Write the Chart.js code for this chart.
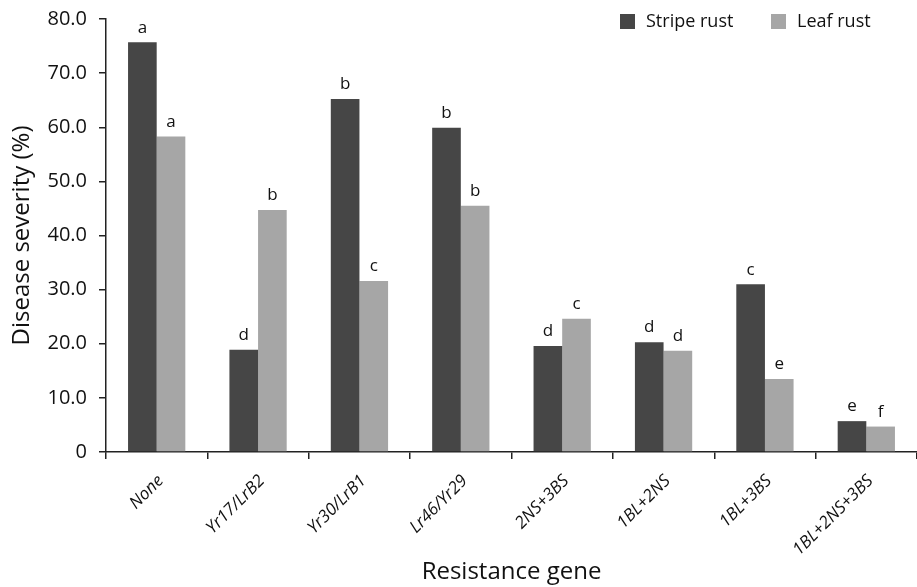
<!DOCTYPE html>
<html>
<head>
<meta charset="utf-8">
<script src="https://cdn.jsdelivr.net/npm/chart.js@4"></script>
<style>
  html, body { margin: 0; padding: 0; background: #fff; }
  #wrap { width: 917px; height: 587px; position: relative; }
</style>
</head>
<body>
<div id="wrap"><canvas id="c" width="917" height="587"></canvas></div>
<script>
const categories = ["None", "Yr17/LrB2", "Yr30/LrB1", "Lr46/Yr29", "2NS+3BS", "1BL+2NS", "1BL+3BS", "1BL+2NS+3BS"];
const stripeRust = [75.7, 18.9, 65.2, 59.9, 19.6, 20.3, 31.0, 5.7];
const leafRust = [58.3, 44.7, 31.6, 45.5, 24.6, 18.7, 13.5, 4.7];
const stripeLetters = ["a", "d", "b", "b", "d", "d", "c", "e"];
const leafLetters = ["a", "b", "c", "b", "c", "d", "e", "f"];
const seriesNames = ["Stripe rust", "Leaf rust"];
const yTicks = [0, 10, 20, 30, 40, 50, 60, 70, 80];

const FONT = "'Open Sans', 'Noto Sans', sans-serif";
const DARK = "#464646";
const LIGHT = "#a6a6a6";
const AXIS = "#222";

const letterPlugin = {
  id: 'letters',
  afterDatasetsDraw(chart) {
    const ctx = chart.ctx;
    const sets = [stripeLetters, leafLetters];
    ctx.save();
    ctx.font = "17px " + FONT;
    ctx.fillStyle = "#111";
    ctx.textAlign = "center";
    ctx.textBaseline = "bottom";
    chart.data.datasets.forEach((ds, di) => {
      const meta = chart.getDatasetMeta(di);
      meta.data.forEach((bar, i) => {
        ctx.fillText(sets[di][i], bar.x, bar.y - 6);
      });
    });
    ctx.restore();
  }
};

const legendPlugin = {
  id: 'customLegend',
  afterDraw(chart) {
    const ctx = chart.ctx;
    ctx.save();
    ctx.font = "18px " + FONT;
    ctx.textBaseline = "middle";
    ctx.textAlign = "left";
    const items = [
      { x: 620, color: DARK, label: seriesNames[0] },
      { x: 771, color: LIGHT, label: seriesNames[1] }
    ];
    items.forEach(it => {
      ctx.fillStyle = it.color;
      ctx.fillRect(it.x, 14, 15, 15);
      ctx.fillStyle = "#111";
      ctx.fillText(it.label, it.x + 26, 22);
    });
    ctx.restore();
  }
};

new Chart(document.getElementById('c'), {
  type: 'bar',
  data: {
    labels: categories,
    datasets: [
      { label: seriesNames[0], data: stripeRust, backgroundColor: DARK, borderWidth: 0 },
      { label: seriesNames[1], data: leafRust, backgroundColor: LIGHT, borderWidth: 0 }
    ]
  },
  options: {
    responsive: false,
    animation: false,
    devicePixelRatio: 1,
    layout: { padding: { top: 19, right: 0, left: 8, bottom: 0 } },
    plugins: {
      legend: { display: false },
      tooltip: { enabled: false }
    },
    datasets: { bar: { categoryPercentage: 0.565, barPercentage: 1.0 } },
    scales: {
      x: {
        offset: true,
        border: { display: true, color: AXIS, width: 1.5 },
        grid: { display: true, drawOnChartArea: false, drawTicks: true, tickLength: 7, color: AXIS, lineWidth: 1.5, offset: true },
        ticks: {
          color: "#111",
          font: { family: FONT, size: 17, style: 'italic' },
          maxRotation: 45, minRotation: 45,
          autoSkip: false,
          padding: 12,
          labelOffset: 4
        },
        title: { display: true, text: "Resistance gene", color: "#111", font: { family: FONT, size: 24 }, padding: { top: 0, bottom: 0 } },
        afterFit(scale) { scale.height = 135; scale.paddingLeft = 0; scale.paddingRight = 0; }
      },
      y: {
        min: 0, max: 80,
        afterBuildTicks(scale) { scale.ticks = yTicks.map(v => ({ value: v })); },
        border: { display: true, color: AXIS, width: 1.5 },
        grid: { display: true, drawOnChartArea: false, drawTicks: true, tickLength: 7, color: AXIS, lineWidth: 1.5 },
        ticks: {
          color: "#111",
          font: { family: FONT, size: 20 },
          padding: 12,
          callback: v => v === 0 ? "0" : v.toFixed(1)
        },
        title: { display: true, text: "Disease severity (%)", color: "#111", font: { family: FONT, size: 24 }, padding: { top: 0, bottom: 0 } },
        afterFit(scale) { scale.width = 98; scale.paddingTop = 0; scale.paddingBottom = 0; }
      }
    }
  },
  plugins: [letterPlugin, legendPlugin]
});
</script>
</body>
</html>
